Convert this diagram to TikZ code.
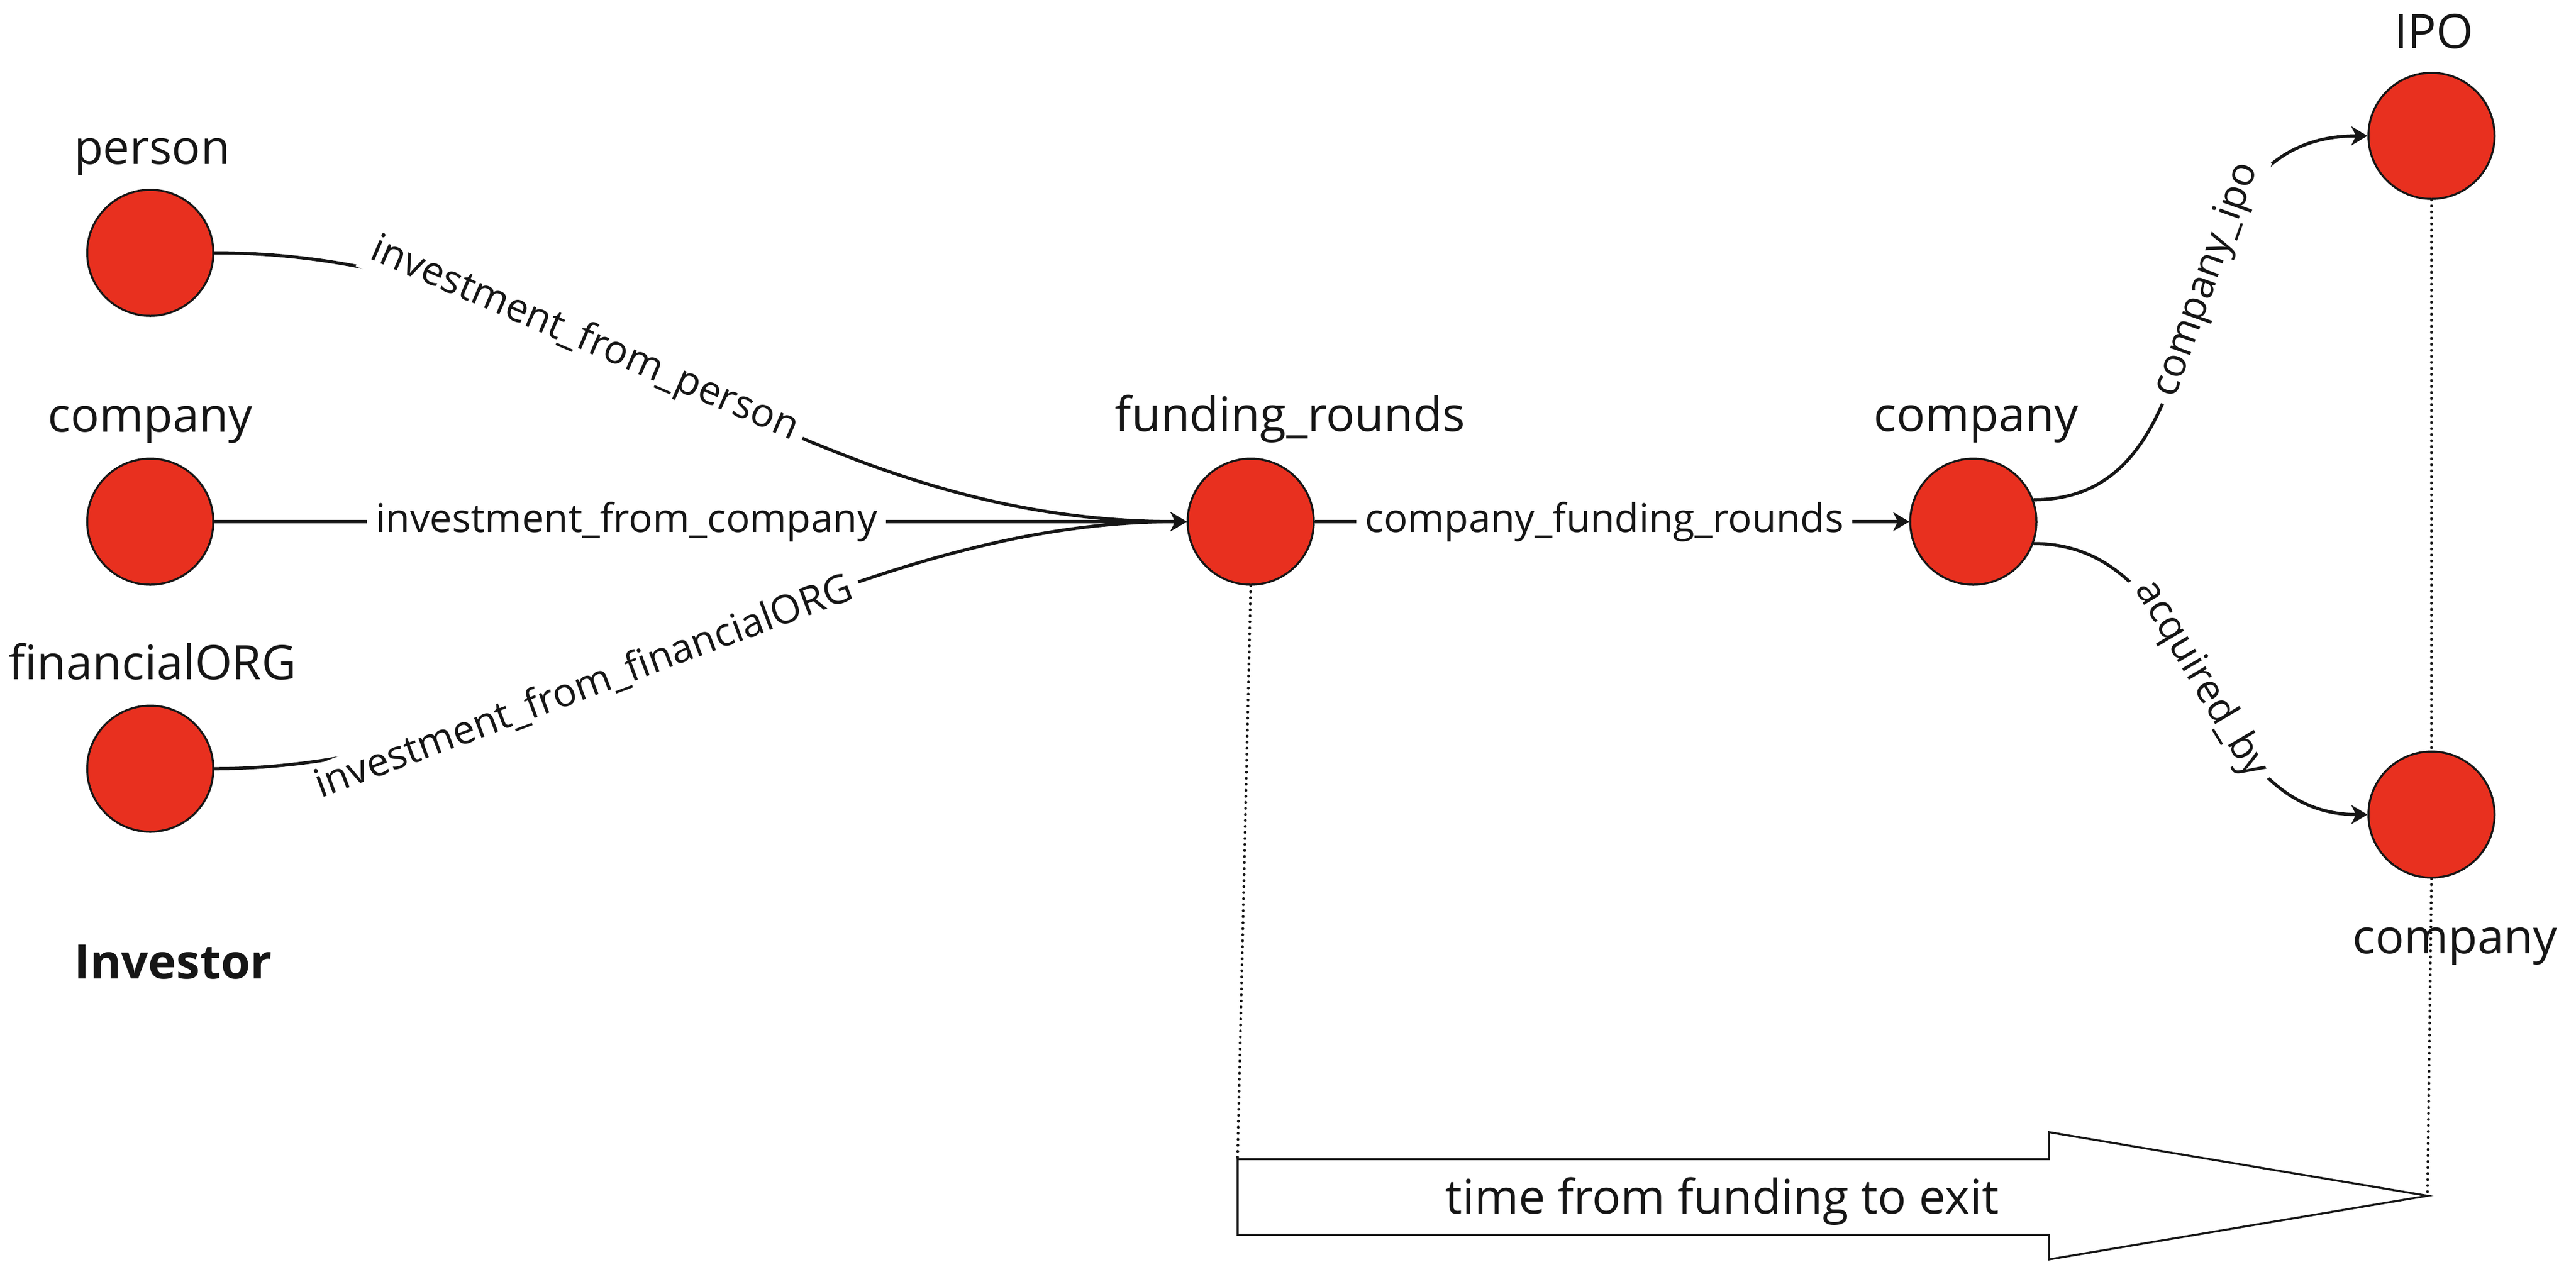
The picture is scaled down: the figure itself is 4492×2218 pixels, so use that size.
\documentclass[tikz,border=0pt]{standalone}
\usepackage{fontspec}
\setmainfont{Open Sans}
\usetikzlibrary{arrows.meta}
\definecolor{nodered}{HTML}{E8301F}
\definecolor{ink}{HTML}{161616}
\begin{document}
\begin{tikzpicture}[x=0.2pt,y=-0.2pt,
  ent/.style={circle, fill=nodered, draw=ink, line width=0.7pt, minimum size=44pt, inner sep=0pt},
  lbl/.style={anchor=base, font=\fontsize{16.6}{20}\selectfont, text=ink, inner sep=0pt},
  rel/.style={draw=ink, line width=1.1pt, -{Stealth[length=5.6pt,width=6.6pt,inset=1.6pt]}},
  elbl/.style={fill=white, font=\fontsize{13.8}{16}\selectfont, text=ink, inner xsep=3pt, inner ysep=1pt, sloped},
  timeline/.style={draw=ink, line width=1pt, dash pattern=on 0pt off 2.1pt, line cap=round},
  block/.style={draw=ink, line width=0.7pt, fill=white, line join=miter}
]
\fill[white] (0,0) rectangle (4492,2218);
\useasboundingbox (0,0) rectangle (4492,2218);

% entities
\node[ent] (person) at (262,441) {};
\node[ent] (compL) at (262,910) {};
\node[ent] (fin) at (262,1341) {};
\node[ent] (fr) at (2181,910) {};
\node[ent] (comp) at (3441,910) {};
\node[ent] (ipo) at (4240,237) {};
\node[ent] (acq) at (4240,1421) {};

% entity labels
\node[lbl] (personL) at (265,286) {person};
\node[lbl] (compLL) at (262,753) {company};
\node[lbl] (finL) at (266,1185) {financialORG};
\node[lbl] (frL) at (2250,752) {funding\_rounds};
\node[lbl] (compMidL) at (3446,752) {company};
\node[lbl] (ipoL) at (4244,84) {IPO};
\node[lbl] (acqL) at (4281,1663) {company};
\node[lbl, font=\fontsize{16.6}{20}\selectfont\bfseries] (investor) at (302,1707) {Investor};

% time arrow
\coordinate (a1) at (2158,2022);
\coordinate (a2) at (3573,2022);
\coordinate (a3) at (3573,1975);
\coordinate (tip) at (4233,2086);
\coordinate (a4) at (3573,2197);
\coordinate (a5) at (3573,2154);
\coordinate (a6) at (2158,2154);
\draw[block] (a1) -- (a2) -- (a3) -- (tip) -- (a4) -- (a5) -- (a6) -- cycle;
\node[lbl] (timeL) at (3003,2117) {time from funding to exit};

% dotted time markers
\draw[timeline] (fr.south) -- (a1);
\draw[timeline] (ipo.south) -- (acq.north);
\draw[timeline] (acq.south) -- (tip);

% investment edges
\draw[rel] (person.east) .. controls +(650,0) and +(-700,0) .. (fr.west)
  node[elbl, pos=0.38] {investment\_from\_person};
\draw[rel] (compL.east) -- (fr.west)
  node[elbl, pos=0.424] {investment\_from\_company};
\draw[rel] (fin.east) .. controls +(580,0) and +(-620,0) .. (fr.west)
  node[elbl, pos=0.385] {investment\_from\_financialORG};

% funding to company
\draw[rel] (fr.east) -- (comp.west)
  node[elbl, pos=0.487] {company\_funding\_rounds};

% exits
\draw[rel] (comp.20) .. controls +(360,0) and +(-390,0) .. (ipo.west)
  node[elbl, pos=0.57] {company\_ipo};
\draw[rel] (comp.-20) .. controls +(300,0) and +(-300,0) .. (acq.west)
  node[elbl, pos=0.5] {acquired\_by};
\end{tikzpicture}
\end{document}
